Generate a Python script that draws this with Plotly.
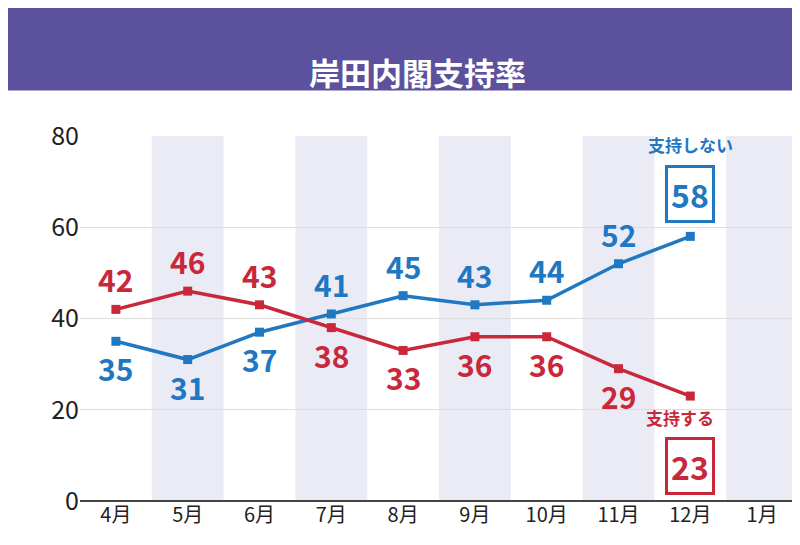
import plotly.graph_objects as go

months = ['4月', '5月', '6月', '7月', '8月', '9月', '10月', '11月', '12月', '1月']
support = [42, 46, 43, 38, 33, 36, 36, 29, 23]
nonsupport = [35, 31, 37, 41, 45, 43, 44, 52, 58]
yticks = [0, 20, 40, 60, 80]

blue = '#1f78c1'
red = '#c8283a'
x = list(range(len(support)))
jp = 'Noto Sans CJK JP'

fig = go.Figure()

# shaded columns
for i in range(1, len(months), 2):
    fig.add_shape(type='rect', xref='x', yref='y', x0=i - 0.5, x1=i + 0.5, y0=0, y1=80,
                  fillcolor='#ebebf5', line_width=0, layer='below')

fig.add_trace(go.Scatter(x=x, y=nonsupport, mode='lines+markers',
                         line=dict(color=blue, width=3.5),
                         marker=dict(symbol='square', size=9, color=blue)))
fig.add_trace(go.Scatter(x=x, y=support, mode='lines+markers',
                         line=dict(color=red, width=3.5),
                         marker=dict(symbol='square', size=9, color=red)))

font = dict(family=jp, size=30, color=blue)
for i, v in enumerate(nonsupport[:-1]):
    below = i < 3
    fig.add_annotation(x=i, y=v, text=f'<b>{v}</b>', showarrow=False,
                       yshift=-27 if below else 30, font=font)
for i, v in enumerate(support[:-1]):
    below = i >= 3
    fig.add_annotation(x=i, y=v, text=f'<b>{v}</b>', showarrow=False,
                       yshift=-27 if below else 30, font=dict(font, color=red))

fig.add_annotation(x=8, y=nonsupport[-1], text=f'<b>{nonsupport[-1]}</b>', showarrow=False,
                   yshift=42, font=dict(font, size=32), bordercolor=blue, borderwidth=3,
                   bgcolor='white', borderpad=3)
fig.add_annotation(x=8, y=nonsupport[-1], text='<b>支持しない</b>', showarrow=False, yshift=92,
                   font=dict(family=jp, size=17, color=blue))
fig.add_annotation(x=8, y=support[-1], text=f'<b>{support[-1]}</b>', showarrow=False,
                   yshift=-70, font=dict(font, size=32, color=red), bordercolor=red,
                   borderwidth=3, bgcolor='white', borderpad=3)
fig.add_annotation(x=8, y=support[-1], text='<b>支持する</b>', showarrow=False, yshift=-21,
                   xshift=-10, font=dict(family=jp, size=17, color=red))

# title bar
fig.add_shape(type='rect', xref='paper', yref='paper', x0=-0.2, x1=1.2, y0=1.125, y1=1.5,
              fillcolor='#5c519d', line_width=0)
fig.add_annotation(xref='paper', yref='paper', x=0.47, y=1.245, text='<b>岸田内閣支持率</b>',
                   showarrow=False, font=dict(family=jp, size=31, color='white'))

fig.update_xaxes(range=[-0.5, 9.5], tickvals=list(range(len(months))), ticktext=months,
                 showgrid=False, zeroline=False, ticks='',
                 tickfont=dict(family=jp, size=20, color='#222'))
fig.update_yaxes(range=[0, 80], tickvals=yticks, showgrid=True, gridcolor='#dddddd',
                 zeroline=True, zerolinecolor='#444', zerolinewidth=1.5,
                 tickfont=dict(family=jp, size=25, color='#222'))

fig.update_layout(width=800, height=545, showlegend=False, plot_bgcolor='white',
                  paper_bgcolor='white', margin=dict(l=72, r=10, t=128, b=52))

fig.write_html('out.html')
